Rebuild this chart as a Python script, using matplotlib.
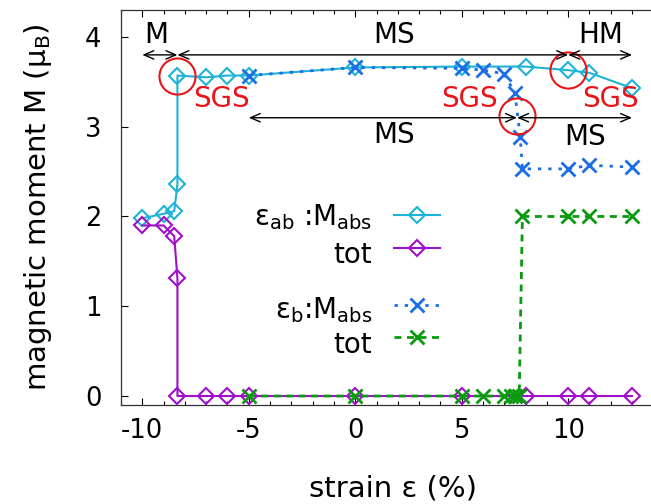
import matplotlib
matplotlib.use('Agg')
import matplotlib.pyplot as plt
from matplotlib.ticker import MultipleLocator

plt.rcParams['font.family'] = ['DejaVu Sans']
plt.rcParams['mathtext.fontset'] = 'dejavusans'
plt.rcParams['axes.unicode_minus'] = False

# strain eps_ab: |M| and M_tot
ab_x = [-10, -9, -8.5, -8.35, -8.35, -7, -6, -5, 0, 5, 8, 10, 11, 13]
ab_abs = [1.98, 2.03, 2.06, 2.36, 3.57, 3.55, 3.57, 3.57, 3.66, 3.67, 3.67, 3.63, 3.60, 3.43]
ab_tot_x = [-10, -9, -8.5, -8.35, -8.35, -7, -6, -5, 0, 5, 8, 10, 11, 13]
ab_tot = [1.90, 1.90, 1.78, 1.31, 0, 0, 0, 0, 0, 0, 0, 0, 0, 0]

# strain eps_b: |M| and M_tot
b_x = [-5, 0, 5, 6, 7, 7.5, 7.75, 7.85, 10, 11, 13]
b_abs = [3.57, 3.66, 3.65, 3.63, 3.59, 3.37, 2.88, 2.53, 2.53, 2.57, 2.55]
b_tot_x = [-5, 0, 5, 6, 7, 7.3, 7.5, 7.7, 7.85, 10, 11, 13]
b_tot = [0, 0, 0, 0, 0, 0, 0, 0, 2.0, 2.0, 2.0, 2.0]

# phase regions (arrows) and labels
arrows_top = [(-10, -8.35), (-8.35, 10), (10, 13)]
arrows_top_y = 3.80
arrows_low = [(-5, 7.6), (7.6, 13)]
arrows_low_y = 3.10
phase_labels = ['M', 'MS', 'HM', 'MS', 'MS']
phase_xy = [(-9.35, 4.02), (1.8, 4.02), (11.55, 4.02), (1.8, 2.91), (10.8, 2.89)]
sgs_xy = [(-6.3, 3.31), (5.35, 3.31), (12.0, 3.31)]
circle_x = [-8.35, 10.0, 7.6]
circle_y = [3.57, 3.63, 3.12]

c_cyan = '#1eb3d6'
c_purple = '#a010c8'
c_blue = '#1a6ee6'
c_green = '#0a9a10'
c_red = '#e8141a'

fs_text = 20
fs_tick = 18.5
fs_label = 21

fig = plt.figure(figsize=(6.51, 5.04), dpi=100)
# right border lies just outside the picture, as in the reference crop
ax = fig.add_axes([121/651, 1 - 405/504, 543/651, 395/504])

lw = 1.5
ax.plot(ab_x, ab_abs, color=c_cyan, lw=lw, marker='D', ms=8, mfc='none', mew=1.5, zorder=3)
ax.plot(ab_tot_x, ab_tot, color=c_purple, lw=lw, marker='D', ms=8, mfc='none', mew=1.5, zorder=3)
ax.plot(b_x, b_abs, color=c_blue, lw=2, ls=(0, (1.2, 2.5)), marker='x', ms=10, mew=2, zorder=4)
ax.plot(b_tot_x, b_tot, color=c_green, lw=2, ls=(0, (2.5, 2)), marker='x', ms=10, mew=2, zorder=4)

# red circles
ax.plot(circle_x, circle_y, ls='none', marker='o', ms=26, mfc='none', mec=c_red, mew=1.5, zorder=5)

aprops = dict(arrowstyle='<->,head_length=0.7,head_width=0.3', color='black', lw=1,
              shrinkA=0, shrinkB=0)
for x0, x1 in arrows_top:
    ax.annotate('', xy=(x1, arrows_top_y), xytext=(x0, arrows_top_y), arrowprops=aprops, zorder=6)
for x0, x1 in arrows_low:
    ax.annotate('', xy=(x1, arrows_low_y), xytext=(x0, arrows_low_y), arrowprops=aprops, zorder=6)

for lab, (x, y) in zip(phase_labels, phase_xy):
    ax.text(x, y, lab, fontsize=fs_text, ha='center', va='center', color='black')
for x, y in sgs_xy:
    ax.text(x, y, 'SGS', fontsize=fs_text, ha='center', va='center', color=c_red, zorder=6)

# gnuplot-style key: text to the left, sample to the right
key = [
    ('ε$_{\\rm ab}$ :M$_{\\rm abs}$', c_cyan, '-', 'D', 225, 215),
    ('tot', c_purple, '-', 'D', 263, 248),
    ('ε$_{\\rm b}$:M$_{\\rm abs}$', c_blue, (0, (1.2, 2.5)), 'x', 318, 305),
    ('tot', c_green, (0, (2.5, 2)), 'x', 353, 337),
]
axw = 543
tx = (372 - 121) / axw
for lab, col, ls, mk, base_px, line_px in key:
    ty = (405 - base_px) / 395
    ly = (405 - line_px) / 395
    ax.text(tx, ty, lab, transform=ax.transAxes, fontsize=fs_text, ha='right', va='baseline')
    ax.plot([(394 - 121) / axw, (440 - 121) / axw], [ly, ly], transform=ax.transAxes,
            color=col, ls=ls, lw=2 if mk == 'x' else lw)
    ax.plot([(417 - 121) / axw], [ly], transform=ax.transAxes, color=col, marker=mk,
            ms=10 if mk == 'x' else 8, mfc='none', mew=2 if mk == 'x' else 1.5)

ax.set_xlim(-11, 14.5)
ax.set_ylim(-0.1, 4.3)
ax.xaxis.set_major_locator(MultipleLocator(5))
ax.xaxis.set_minor_locator(MultipleLocator(1))
ax.yaxis.set_major_locator(MultipleLocator(1))
ax.tick_params(which='both', direction='in', top=True, right=True, labelsize=fs_tick)
ax.tick_params(axis='x', pad=9)
ax.tick_params(axis='y', pad=14)
ax.tick_params(which='major', length=5, width=0.8)
ax.tick_params(which='minor', length=3, width=0.8)
ax.set_xlabel('strain ε (%)', fontsize=fs_label, labelpad=22)
ax.set_ylabel('magnetic moment M (μ$_{\\rm B}$)', fontsize=fs_label, labelpad=22)
for s in ax.spines.values():
    s.set_linewidth(0.9)
    s.set_color('#333333')

fig.savefig('out.png', dpi=100)
